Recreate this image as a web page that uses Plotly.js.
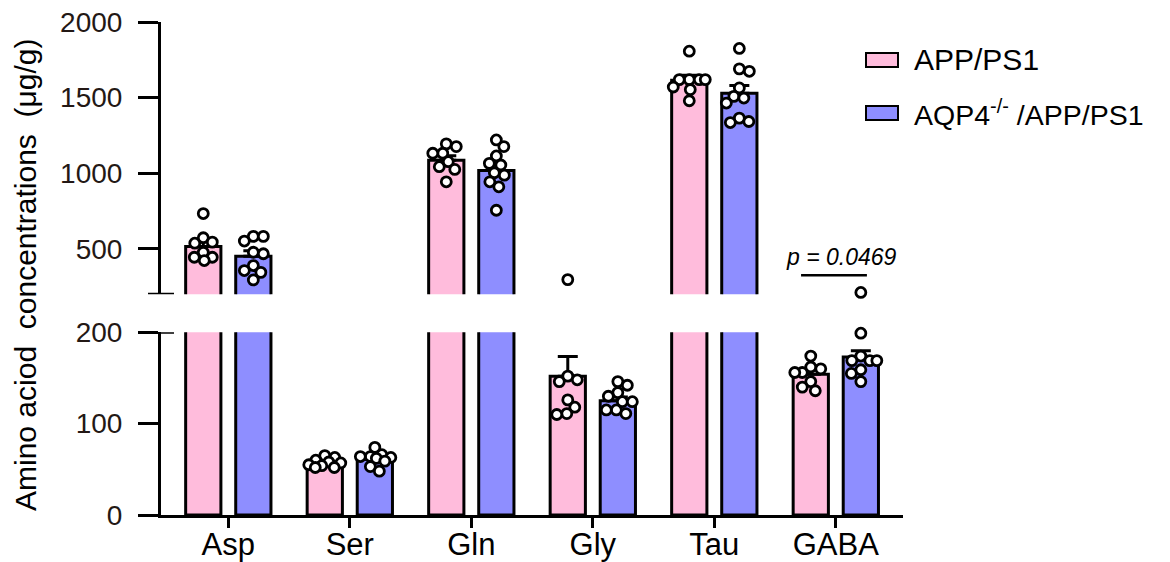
<!DOCTYPE html>
<html>
<head>
<meta charset="utf-8">
<script src="https://cdn.plot.ly/plotly-3.0.1.min.js"></script>
<style>html,body{margin:0;padding:0;background:#fff;}#chart{width:1170px;height:562px;}</style>
</head>
<body>
<div id="chart"></div>
<script>
// ---------------- data ----------------
const categories = ['Asp', 'Ser', 'Gln', 'Gly', 'Tau', 'GABA'];
const seriesNames = ['APP/PS1', 'AQP4<sup>-/-</sup> /APP/PS1'];
const meanAPP  = [515, 57, 1085, 152, 1615, 154];
const meanAQP4 = [450, 61, 1018, 125, 1528, 173];
const pointsAPP = [
  [733, 573, 544, 537, 477, 444, 444, 422],
  [65, 63, 60, 58, 57, 55, 54, 52, 52],
  [1194, 1176, 1132, 1132, 1076, 1043, 1025, 943],
  [296, 152, 148, 146, 126, 118, 111, 110],
  [1807, 1619, 1619, 1619, 1619, 1570, 1553, 1479],
  [174, 162, 160, 156, 156, 146, 140, 136]
];
const pointsAQP4 = [
  [582, 582, 551, 477, 467, 389, 356, 344, 294],
  [74, 66, 64, 64, 63, 62, 59, 53, 48],
  [1220, 1176, 1114, 1065, 1054, 1003, 987, 943, 910, 755],
  [146, 142, 134, 130, 124, 124, 115, 115, 111],
  [1825, 1690, 1674, 1564, 1508, 1497, 1464, 1364, 1342, 1335],
  [211, 199, 174, 169, 169, 169, 159, 155, 146]
];
const lowerTicks = [0, 100, 200];
const upperTicks = [500, 1000, 1500, 2000];
const pText = '<i>p = 0.0469</i>';
const pCategory = 5;

// ---------------- layout geometry ----------------
const W = 1170, H = 562;
const M = {l: 161, r: 267, t: 22, b: 47};
const plotW = W - M.l - M.r, plotH = H - M.t - M.b;
const xRange = [-0.554, 5.553];
const lowerRange = [0, 200], upperRange = [200, 2000];
const lowerDomain = [0, 0.3706], upperDomain = [0.448, 1];
const groupOff = 0.206, barW = 0.29;
const pink = '#ffbcdc', blue = '#8e8eff';
const FONT = 'Liberation Sans, Arial, sans-serif';
const tickColor = '#231815';

const xPx = plotW / (xRange[1] - xRange[0]);
function yPix(v) {
  if (v <= lowerRange[1]) {
    const s = (lowerDomain[1] - lowerDomain[0]) * plotH / (lowerRange[1] - lowerRange[0]);
    return -(v - lowerRange[0]) * s;
  }
  const s = (upperDomain[1] - upperDomain[0]) * plotH / (upperRange[1] - upperRange[0]);
  return -(upperDomain[0] * plotH) - (v - upperRange[0]) * s;
}

function sem(a) {
  const n = a.length, m = a.reduce((s, v) => s + v, 0) / n;
  const v = a.reduce((s, x) => s + (x - m) * (x - m), 0) / (n - 1);
  return Math.sqrt(v / n);
}

// bounded beeswarm in pixel space
function swarm(vals, D, maxW) {
  const placed = [];
  const out = [];
  let flip = 1;
  vals.forEach(v => {
    const py = yPix(v);
    const cands = [0];
    for (let k = 1; k * 0.5 <= maxW; k++) cands.push(k * 0.5 * flip, -k * 0.5 * flip);
    let best = null, bestD = -1;
    for (const dx of cands) {
      let md = Infinity;
      for (const p of placed) {
        const ddx = dx - p[0], ddy = py - p[1];
        md = Math.min(md, Math.sqrt(ddx * ddx + ddy * ddy));
      }
      if (md >= D) { best = dx; bestD = md; break; }
      if (md > bestD + 0.01) { bestD = md; best = dx; }
    }
    if (best !== 0) flip = -flip;
    placed.push([best, py]);
    out.push(best / xPx);
  });
  return out;
}

const traces = [];
const idx = categories.map((c, i) => i);
function addSeries(means, pts, color, sign) {
  const sems = pts.map(sem);
  ['y', 'y2'].forEach(ya => {
    traces.push({
      type: 'bar', x: idx, y: means, yaxis: ya, xaxis: 'x',
      width: barW, offset: sign * groupOff - barW / 2,
      marker: {color: color, line: {color: '#000', width: 3}},
      error_y: {type: 'data', symmetric: false, array: sems, arrayminus: sems.map(() => 0),
                color: '#000', thickness: 3, width: 10},
      showlegend: false, hoverinfo: 'skip'
    });
  });
  const lx = [], ly = [], ux = [], uy = [];
  pts.forEach((arr, i) => {
    const offs = swarm(arr, 10, 16);
    arr.forEach((v, j) => {
      const xx = i + sign * groupOff + offs[j];
      if (v <= lowerRange[1]) { lx.push(xx); ly.push(v); } else { ux.push(xx); uy.push(v); }
    });
  });
  [[lx, ly, 'y'], [ux, uy, 'y2']].forEach(([xs, ys, ya]) => {
    traces.push({
      type: 'scatter', mode: 'markers', x: xs, y: ys, xaxis: 'x', yaxis: ya,
      cliponaxis: false,
      marker: {symbol: 'circle', size: 10, color: '#fff', line: {color: '#000', width: 2.8}},
      showlegend: false, hoverinfo: 'skip'
    });
  });
}
addSeries(meanAPP, pointsAPP, pink, -1);
addSeries(meanAQP4, pointsAQP4, blue, 1);

// helpers to paper coords
const px2x = p => (p - M.l) / plotW;
const px2y = p => (H - M.b - p) / plotH;

const sigY = 325;
const shapes = [
  // axis break caps
  {type: 'line', xref: 'paper', yref: 'y', x0: px2x(148), x1: px2x(174), y0: lowerRange[1], y1: lowerRange[1], line: {color: '#000', width: 3}},
  {type: 'line', xref: 'paper', yref: 'y2', x0: px2x(148), x1: px2x(174), y0: upperRange[0], y1: upperRange[0], line: {color: '#000', width: 3}},
  // significance line
  {type: 'line', xref: 'x', yref: 'y2', x0: pCategory - groupOff - 0.08, x1: pCategory + groupOff + 0.05, y0: sigY, y1: sigY, line: {color: '#000', width: 2.5}},
  // legend swatches
  {type: 'rect', xref: 'paper', yref: 'paper', x0: px2x(866), x1: px2x(898), y0: px2y(67), y1: px2y(53), fillcolor: pink, line: {color: '#000', width: 2}},
  {type: 'rect', xref: 'paper', yref: 'paper', x0: px2x(866), x1: px2x(898), y0: px2y(120), y1: px2y(106), fillcolor: blue, line: {color: '#000', width: 2}}
];

const annotations = [
  {text: pText, xref: 'x', yref: 'y2', x: pCategory + 0.05, y: sigY, yanchor: 'bottom', yshift: 3,
   showarrow: false, font: {family: FONT, size: 23, color: '#000'}},
  {text: seriesNames[0], xref: 'paper', yref: 'paper', x: px2x(912), y: px2y(60), xanchor: 'left', yanchor: 'middle',
   showarrow: false, font: {family: FONT, size: 30, color: '#000'}},
  {text: seriesNames[1], xref: 'paper', yref: 'paper', x: px2x(912), y: px2y(113), xanchor: 'left', yanchor: 'middle',
   showarrow: false, font: {family: FONT, size: 28.5, color: '#000'}},
  {text: 'Amino aciod\u00a0 concentrations\u00a0 (μg/g)', xref: 'paper', yref: 'paper', x: px2x(25), y: px2y(275),
   xanchor: 'center', yanchor: 'middle', textangle: -90, showarrow: false,
   font: {family: FONT, size: 30, color: '#000'}}
];

const yCommon = {
  showline: true, linecolor: '#000', linewidth: 3, ticks: 'outside', ticklen: 20, tickwidth: 3,
  tickcolor: '#000', showgrid: false, zeroline: false, tickmode: 'array', fixedrange: true,
  tickfont: {family: FONT, size: 28, color: tickColor}, ticklabelstandoff: 10
};

const layout = {
  width: W, height: H, margin: M, paper_bgcolor: '#fff', plot_bgcolor: 'rgba(0,0,0,0)',
  barmode: 'overlay', showlegend: false,
  font: {family: FONT},
  xaxis: {range: xRange, showline: true, linecolor: '#000', linewidth: 3, ticks: 'outside', ticklen: 10,
          tickwidth: 3, tickcolor: '#000', tickmode: 'array', tickvals: idx, ticktext: categories,
          showgrid: false, zeroline: false, anchor: 'y',
          tickfont: {family: FONT, size: 31, color: '#000'}, ticklabelstandoff: -10},
  yaxis: Object.assign({}, yCommon, {domain: lowerDomain, range: lowerRange, tickvals: lowerTicks, anchor: 'x'}),
  yaxis2: Object.assign({}, yCommon, {domain: upperDomain, range: upperRange, tickvals: upperTicks, anchor: 'x'}),
  shapes: shapes, annotations: annotations
};

Plotly.newPlot('chart', traces, layout, {staticPlot: true, displayModeBar: false});
</script>
</body>
</html>
